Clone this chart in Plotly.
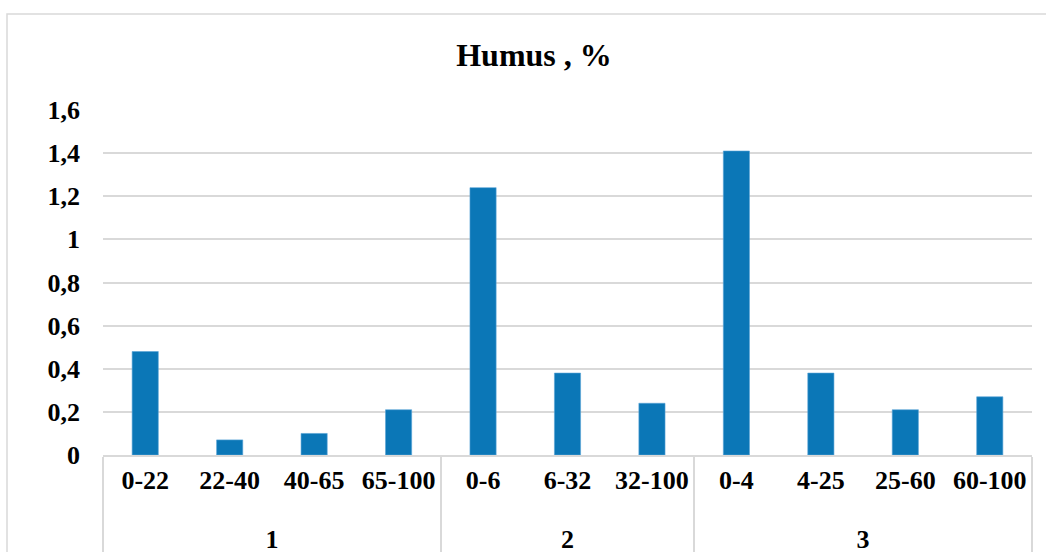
import plotly.graph_objects as go

# Soil profiles (group) and horizon depths, cm
profiles = ["1", "1", "1", "1", "2", "2", "2", "3", "3", "3", "3"]
depths = ["0-22", "22-40", "40-65", "65-100",
          "0-6", "6-32", "32-100",
          "0-4", "4-25", "25-60", "60-100"]
humus = [0.48, 0.07, 0.10, 0.21, 1.24, 0.38, 0.24, 1.41, 0.38, 0.21, 0.27]

y_ticks = [0, 0.2, 0.4, 0.6, 0.8, 1.0, 1.2, 1.4, 1.6]
y_labels = ["0", "0,2", "0,4", "0,6", "0,8", "1", "1,2", "1,4", "1,6"]

W, H = 1046, 552
L, R, T, B = 103, 14, 110, 97
FONT = "Liberation Serif"
GRID = "#D9D9D9"

# a small trailing spacer line under each depth label opens the gap to the group row
depth_text = [d + "<br><span style='font-size:6px'>\u00a0</span>" for d in depths]

fig = go.Figure(
    go.Bar(
        x=[profiles, depth_text],
        y=humus,
        marker=dict(color="#0B77B7", line=dict(color="#5AA5D6", width=0.6)),
        width=0.31,
    )
)

pw, ph = W - L - R, H - T - B
# outer chart frame (top and left edges visible)
fig.add_shape(type="rect", xref="paper", yref="paper",
              x0=(7 - L) / pw, x1=(W + 20 - L) / pw,
              y0=-(H + 20 - T - ph) / ph, y1=(T + ph - 14) / ph,
              line=dict(color=GRID, width=1.5), layer="below")

fig.update_layout(
    width=W, height=H,
    margin=dict(l=L, r=R, t=T, b=B),
    paper_bgcolor="white", plot_bgcolor="white",
    showlegend=False,
    font=dict(family=FONT, color="black"),
    title=dict(text="<b>Humus , %</b>", font=dict(family=FONT, size=32, color="black"),
               xref="container", yref="container", x=534 / W, y=1 - 55 / H,
               xanchor="center", yanchor="middle"),
    bargap=0.69,
)
fig.update_xaxes(
    type="multicategory",
    automargin=False,
    tickangle=0,
    showline=True, linecolor=GRID, linewidth=1.5,
    showdividers=True, dividercolor=GRID, dividerwidth=1.5,
    tickfont=dict(family=FONT, size=26, color="black", weight="bold"),
    ticklabelstandoff=1,
    showgrid=False, ticks="",
)
fig.update_yaxes(
    range=[0, 1.6],
    automargin=False,
    tickvals=y_ticks, ticktext=y_labels,
    showgrid=True, gridcolor=GRID, gridwidth=1.5,
    zeroline=False, showline=False, ticks="",
    ticklabelstandoff=22,
    tickfont=dict(family=FONT, size=26, color="black", weight="bold"),
)

fig.write_html("out.html")
